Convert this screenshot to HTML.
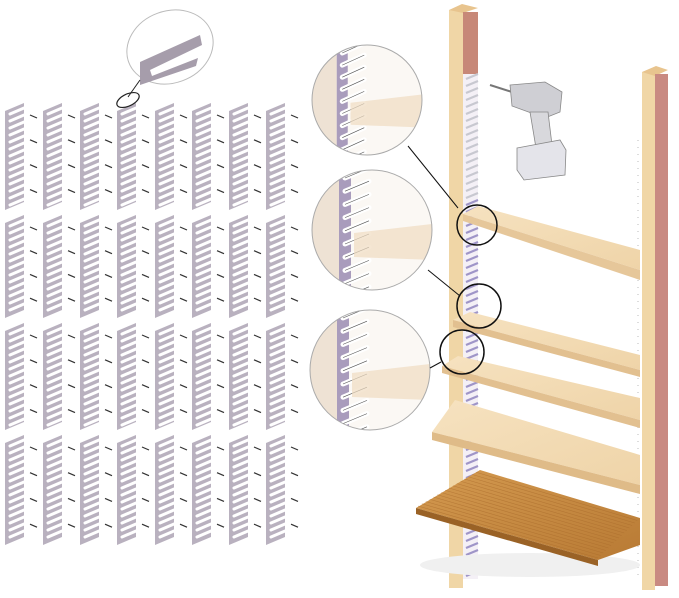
<!DOCTYPE html>
<html><head><meta charset="utf-8"><style>
html,body{margin:0;padding:0;background:#fff;width:679px;height:598px;overflow:hidden}
svg{display:block}
</style></head><body>
<svg id="s" width="679" height="598" viewBox="0 0 679 598" xmlns="http://www.w3.org/2000/svg">
<defs>
<linearGradient id="wood" x1="0" y1="0" x2="1" y2="1"><stop offset="0" stop-color="#f6e2c0"/><stop offset="1" stop-color="#efd4a8"/></linearGradient>
<linearGradient id="dark" x1="0" y1="0" x2="1" y2="1"><stop offset="0" stop-color="#d49a50"/><stop offset="1" stop-color="#b87a34"/></linearGradient>
</defs>
<g id="strips"></g>
<!-- top callout -->
<ellipse cx="170" cy="47" rx="44" ry="36" transform="rotate(-20 170 47)" fill="#fff" stroke="#bbb" stroke-width="1"/>
<path d="M140 62 L200 35 L202 45 L150 70 L152 76 L198 58 L196 66 L140 85 Z" fill="#a69dab"/>
<line x1="140" y1="80" x2="128" y2="97" stroke="#222" stroke-width="1"/>
<ellipse cx="128" cy="100" rx="12" ry="6" transform="rotate(-25 128 100)" fill="none" stroke="#222" stroke-width="1.2"/>
<!-- left post -->
<rect x="449" y="10" width="14" height="578" fill="#f0d6a6"/>
<polygon points="449,10 462,4 478,8 463,13" fill="#e8c48e"/>
<rect x="463" y="12" width="15" height="62" fill="#c78878"/>
<rect x="463" y="74" width="15" height="505" fill="#f4f0f6"/>
<g id="lstrip"></g>
<!-- right post -->
<rect x="642" y="72" width="13" height="518" fill="#f0d6a6"/>
<polygon points="642,72 656,66 668,70 655,76" fill="#e8c48e"/>
<rect x="655" y="74" width="13" height="512" fill="#c98a82"/>
<line x1="638" y1="140" x2="638" y2="580" stroke="#bbb" stroke-width="1" stroke-dasharray="1 6"/>
<!-- shelves -->
<polygon points="463,214 478,206 640,250 640,270" fill="url(#wood)"/>
<polygon points="463,214 640,270 640,280 463,221" fill="#e6c79a"/>
<polygon points="453,320 470,312 640,355 640,370" fill="url(#wood)"/>
<polygon points="453,320 640,370 640,377 453,327" fill="#e2c090"/>
<polygon points="442,366 458,356 640,398 640,420" fill="url(#wood)"/>
<polygon points="442,366 640,420 640,428 442,373" fill="#e2c090"/>
<polygon points="432,432 455,400 640,455 640,485" fill="url(#wood)"/>
<polygon points="432,432 640,485 640,494 432,440" fill="#dfbb88"/>
<ellipse cx="530" cy="565" rx="110" ry="12" fill="#f0f0f0"/>
<polygon points="416,508 480,470 640,518 640,545 598,560" fill="url(#dark)"/>
<polygon points="416,508 598,560 598,566 416,514" fill="#9a6226"/>
<g id="grain" stroke="#a8692a" stroke-width="0.6" opacity="0.6"></g>
<!-- drill -->
<line x1="490" y1="85" x2="512" y2="92" stroke="#777" stroke-width="2"/>
<path d="M510 85 L545 82 L562 92 L560 112 L545 118 L512 106 Z" fill="#cfcfd4" stroke="#888" stroke-width="0.8"/>
<path d="M530 112 L548 112 L552 145 L536 148 Z" fill="#d8d8dc" stroke="#888" stroke-width="0.8"/>
<path d="M517 148 L560 140 L566 150 L565 175 L524 180 L517 170 Z" fill="#e4e4ea" stroke="#888" stroke-width="0.8"/>
<!-- insets -->
<g id="insets"></g>
<circle cx="477" cy="225" r="20" fill="none" stroke="#111" stroke-width="1.5"/>
<circle cx="479" cy="306" r="22" fill="none" stroke="#111" stroke-width="1.5"/>
<circle cx="462" cy="352" r="22" fill="none" stroke="#111" stroke-width="1.5"/>
<line x1="408" y1="146" x2="458" y2="208" stroke="#111" stroke-width="1"/>
<line x1="428" y1="270" x2="460" y2="296" stroke="#111" stroke-width="1"/>
<line x1="430" y1="368" x2="441" y2="362" stroke="#111" stroke-width="1"/>
</svg>
<script>
var NS="http://www.w3.org/2000/svg";
function el(t,a,p){var e=document.createElementNS(NS,t);for(var k in a)e.setAttribute(k,a[k]);p.appendChild(e);return e;}
var g=document.getElementById('strips');
var xs=[5,43,80,117,155,192,229,266],rows=[[103,210],[215,318],[323,430],[435,545]];
xs.forEach(function(x,i){rows.forEach(function(r,j){
 var y0=r[0], y1=r[1];
 el('polygon',{points:[x,y0+8,x+19,y0,x+19,y1-8,x,y1].join(' '),fill:'#b9b1bf'},g);
 for(var y=y0+8;y<y1-6;y+=7){el('line',{x1:x+5,y1:y+3,x2:x+19,y2:y-3,stroke:'#fff','stroke-width':3,'stroke-linecap':'round'},g);}
 for(var k=0;k<4;k++){var yy=r[0]+12+k*(r[1]-r[0]-20)/3.5;el('line',{x1:x+25,y1:yy,x2:x+32,y2:yy+3,stroke:'#333','stroke-width':1.2},g);}
});});
var ls=document.getElementById('lstrip');
for(var y=76;y<578;y+=7){el('line',{x1:466,y1:y+3,x2:478,y2:y-2,stroke:(y>200?'#9f95c8':'#c8c8d0'),'stroke-width':2.2},ls);}
var gr=document.getElementById('grain');
for(var k=0;k<16;k++){var t=k/16;el('line',{x1:418+t*62,y1:506-t*36,x2:598+t*42,y2:558-t*40},gr);}
var ins=document.getElementById('insets');
[[367,100,55],[372,230,60],[370,370,60]].forEach(function(c,i){
 var cx=c[0],cy=c[1],r=c[2];
 var cp=el('clipPath',{id:'c'+i},ins);el('circle',{cx:cx,cy:cy,r:r},cp);
 var gg=el('g',{'clip-path':'url(#c'+i+')'},ins);
 el('rect',{x:cx-r,y:cy-r,width:2*r,height:2*r,fill:'#fbf8f4'},gg);
 el('rect',{x:cx-r,y:cy-r,width:r*0.45,height:2*r,fill:'#eee2d4'},gg);
 el('rect',{x:cx-r*0.55,y:cy-r,width:r*0.2,height:2*r,fill:'#a99cbc'},gg);
 for(var y=cy-r;y<cy+r;y+=r*0.22){el('path',{d:'M'+(cx-r*0.45)+' '+(y+8)+' L'+(cx-r*0.05)+' '+(y-2),stroke:'#fff','stroke-width':5,'stroke-linecap':'round',fill:'none'},gg);el('path',{d:'M'+(cx-r*0.45)+' '+(y+8)+' L'+(cx-r*0.05)+' '+(y-2),stroke:'#555','stroke-width':0.6,fill:'none'},gg);}
 el('polygon',{points:[cx-r*0.3,cy+r*0.05,cx+r,cy-r*0.1,cx+r,cy+r*0.5,cx-r*0.3,cy+r*0.45].join(' '),fill:'#f0dcc0',opacity:0.7},gg);
 el('circle',{cx:cx,cy:cy,r:r,fill:'none',stroke:'#aaa','stroke-width':1},ins);
});
</script>
</body></html>
